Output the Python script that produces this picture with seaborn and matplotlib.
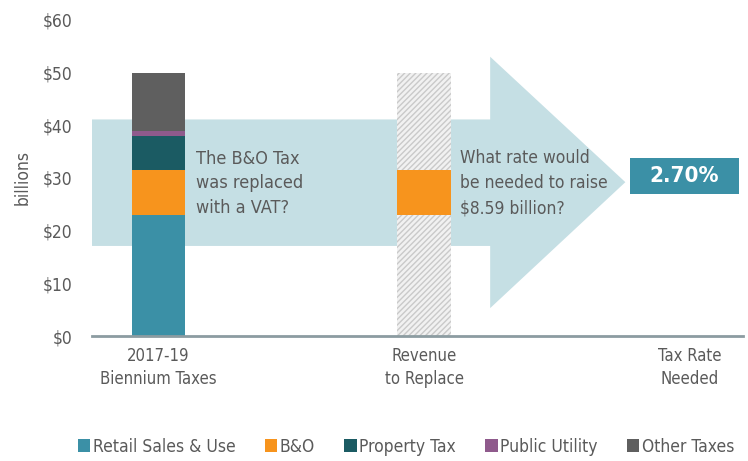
import matplotlib
matplotlib.use("Agg")
import matplotlib.pyplot as plt
import seaborn as sns
import pandas as pd
from matplotlib.patches import Polygon, Patch, Rectangle

categories = ["2017-19\nBiennium Taxes", "Revenue\nto Replace", "Tax Rate\nNeeded"]
series = ["Retail Sales & Use", "B&O", "Property Tax", "Public Utility", "Other Taxes"]
biennium = [23.0, 8.6, 6.3, 1.0, 11.1]
colors = ["#3b90a6", "#f7941d", "#1b5b63", "#8f5a8c", "#5f5f5f"]
replace_total = 50.0
replace_base = 23.0
replace_bno = 8.59
rate_needed = "2.70%"
yticks = [0, 10, 20, 30, 40, 50, 60]

sns.set_style("white")
plt.rcParams["font.family"] = ["DejaVu Sans"]
plt.rcParams["font.stretch"] = "condensed"
text_color = "#5a5a5a"

fig = plt.figure(figsize=(7.48, 4.61), dpi=100)
ax = fig.add_axes([0.123, 0.271, 0.870, 0.686])

# arrow in the background
arrow = Polygon([(-0.25, 17.1), (1.249, 17.1), (1.249, 5.3), (1.758, 29.2),
                 (1.249, 53.0), (1.249, 41.1), (-0.25, 41.1)],
                closed=True, facecolor="#c5dfe4", edgecolor="none", zorder=0)
ax.add_patch(arrow)

# stacked bar for the biennium: draw cumulative tops, tallest first
tops = pd.Series(biennium).cumsum().tolist()
for i in reversed(range(len(series))):
    df = pd.DataFrame({"cat": [categories[0]], "val": [tops[i]]})
    sns.barplot(data=df, x="cat", y="val", order=categories, color=colors[i],
                width=0.2, saturation=1, linewidth=0, ax=ax, zorder=2)

# revenue to replace: hatched bar with B&O slice
hatch_kw = dict(width=0.2, saturation=1, ax=ax, zorder=2, hatch="//////",
                edgecolor="#c9c9c9", linewidth=0)
df = pd.DataFrame({"cat": [categories[1]], "val": [replace_total]})
sns.barplot(data=df, x="cat", y="val", order=categories, color="#f1f1f1", **hatch_kw)
df = pd.DataFrame({"cat": [categories[1]], "val": [replace_base + replace_bno]})
sns.barplot(data=df, x="cat", y="val", order=categories, color=colors[1],
            width=0.2, saturation=1, linewidth=0, ax=ax, zorder=2)
df = pd.DataFrame({"cat": [categories[1]], "val": [replace_base]})
sns.barplot(data=df, x="cat", y="val", order=categories, color="#f1f1f1", **hatch_kw)

# result box
ax.add_patch(Rectangle((1.777, 26.9), 0.408, 6.8, facecolor="#3b90a6",
                       edgecolor="none", zorder=3))
ax.text(1.981, 30.3, rate_needed, color="white", fontsize=16, fontweight="bold",
        ha="center", va="center", zorder=4)

ax.text(0.143, 29.0, "The B&O Tax\nwas replaced\nwith a VAT?", color=text_color,
        fontsize=13, ha="left", va="center", linespacing=1.45, zorder=4)
ax.text(1.136, 29.0, "What rate would\nbe needed to raise\n$%.2f billion?" % replace_bno,
        color=text_color, fontsize=12.5, ha="left", va="center", linespacing=1.5, zorder=4)

ax.set_xlim(-0.25, 2.2)
ax.set_ylim(0, 60)
ax.set_yticks(yticks)
ax.set_yticklabels(["$%d" % v for v in yticks])
ax.set_xlabel("")
ax.set_ylabel("billions", color=text_color, fontsize=12.5, labelpad=8)
ax.tick_params(axis="y", length=0, pad=14, labelsize=12.5, labelcolor=text_color)
ax.tick_params(axis="x", length=0, pad=8, labelsize=12, labelcolor=text_color)
for lab in ax.get_xticklabels():
    lab.set_linespacing(1.35)
for s in ["left", "top", "right"]:
    ax.spines[s].set_visible(False)
ax.spines["bottom"].set_color("#8c9ca1")
ax.spines["bottom"].set_linewidth(2)
ax.spines["bottom"].set_zorder(5)

handles = [Patch(facecolor=c, edgecolor="none") for c in colors]
fig.legend(handles, series, loc="lower center", bbox_to_anchor=(0.543, -0.022), ncol=5,
           frameon=False, handlelength=0.7, handleheight=0.7, handletextpad=0.15,
           columnspacing=1.7, fontsize=12.5, labelcolor=text_color)

fig.savefig("out.png", dpi=100)
